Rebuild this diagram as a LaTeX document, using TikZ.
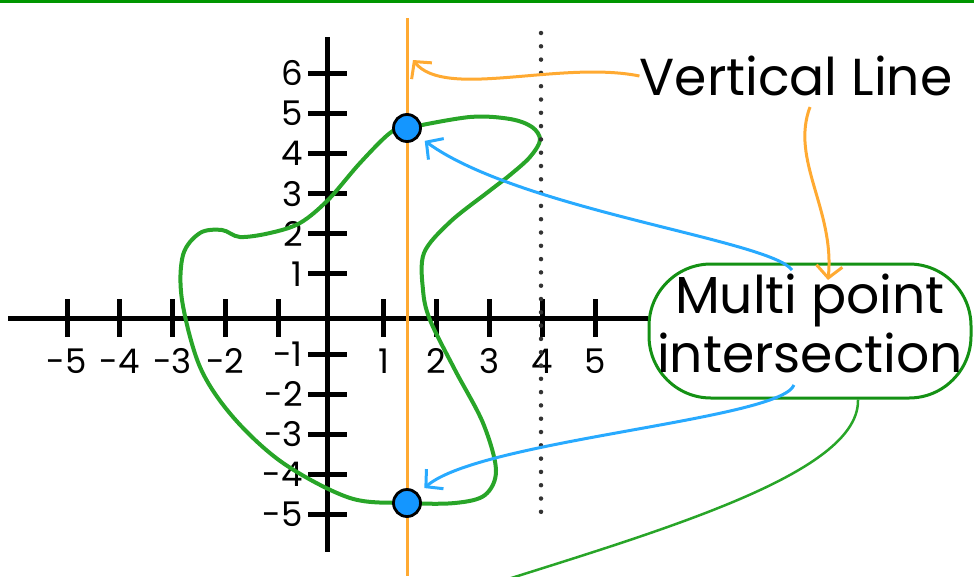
\documentclass[tikz,border=0pt]{standalone}
\usepackage{fontspec}
\setmainfont{Poppins}
\usetikzlibrary{arrows.meta}

\definecolor{topgreen}{RGB}{0,150,0}
\definecolor{curvegreen}{RGB}{40,165,40}
\definecolor{ovalgreen}{RGB}{20,145,20}
\definecolor{ptblue}{RGB}{20,150,255}
\definecolor{arrblue}{RGB}{40,170,255}
\definecolor{vorange}{RGB}{255,170,50}

\begin{document}
\begin{tikzpicture}[
  x=1pt, y=-1pt,
  axis/.style={line width=5pt, black},
  tickmark/.style={line width=5pt, black},
  num/.style={font=\fontsize{34}{36}\selectfont, inner sep=0pt},
  pt/.style={circle, fill=ptblue, draw=black, line width=2.8pt, minimum size=27pt, inner sep=0pt},
  curve/.style={curvegreen, line width=4pt},
  callout/.style={font=\fontsize{52}{60}\selectfont, align=center, inner sep=0pt},
  barr/.style={arrblue, line width=3pt, -{Straight Barb[length=12pt,width=26pt]}},
  oarr/.style={vorange, line width=3pt, -{Straight Barb[length=12pt,width=26pt]}},
]
\useasboundingbox (0,0) rectangle (974,576);
% frame line on top
\draw[topgreen, line width=3pt] (0,1.5) -- (974,1.5);
% labels
\node[callout] (vl) at (796,76) {Vertical Line};
\node[callout, draw=ovalgreen, line width=3pt, rounded corners=62pt,
      minimum width=322pt, minimum height=134pt] (mpi) at (810,331) {\raisebox{4pt}{\begin{tabular}{@{}c@{}}Multi point\\[-1pt]intersection\end{tabular}}};
% axes
\coordinate (xa) at (8,318);
\draw[axis] (xa) -- (mpi.west |- xa);
\draw[axis] (327,37) -- (327,552);
\foreach \i in {-5,...,-1,1,2,3,4,5}
  \draw[tickmark] ({331+52.8*\i},299) -- ({331+52.8*\i},337);
\foreach \i in {-5,...,-2,1,2,3,4,5}
  \node[num, anchor=base] (xl\i) at ({331+52.8*\i},373) {\i};
\foreach \j in {-5,...,-1,1,2,...,6} {
  \draw[tickmark] (308,{314-40.1*\j}) -- (347,{314-40.1*\j});
  \node[num, anchor=east] (yl\j) at (303,{314-40.1*\j}) {\j};
}
% vertical lines
\draw[vorange, line width=3pt] (407,18) -- (407,576);
% the relation
\draw[curve] plot[smooth cycle, tension=0.55] coordinates {
  (407,128) (470,117) (510,119) (532,127) (540,140) (530,157) (510,175)
  (488,192) (450,222) (424,253) (423,290) (430,320) (455,370) (483,423)
  (496,470) (485,495) (455,503) (407,503) (350,498) (283,463) (233,417)
  (200,367) (182,300) (183,255) (200,233) (222,230) (240,237) (270,233)
  (300,223) (328,200) (360,163) (390,133)};
\draw[gray!40!black, line width=4.5pt, line cap=round, dash pattern=on 0pt off 13.3pt] (541,33) -- (541,515);
% intersection points
\node[pt] (top) at (407,128) {};
\node[pt] (bot) at (407,503) {};
% connectors
\coordinate (vtip) at (413,60);
\coordinate (otip) at (828,280);
\coordinate (vs) at (810,107);
\coordinate (b1) at (792,270);
\coordinate (b2) at (794,385);
\coordinate (gend) at (505,580);
\draw[oarr] (vl.west) .. controls (560,60) and (445,100) .. (vtip);
\draw[oarr] (vs) .. controls (790,160) and (835,210) .. (otip);
\draw[barr, shorten >=7pt] (b1) .. controls (770,240) and (520,210) .. (top);
\draw[barr, shorten >=8pt] (b2) .. controls (780,420) and (480,440) .. (bot);
\draw[curvegreen, line width=2.5pt] ([xshift=48pt]mpi.south) .. controls (860,470) and (680,525) .. (gend);
\end{tikzpicture}
\end{document}
